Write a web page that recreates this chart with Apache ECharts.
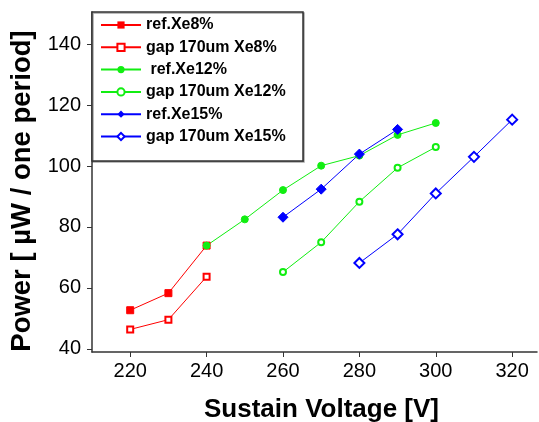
<!DOCTYPE html>
<html>
<head>
<meta charset="utf-8">
<script src="https://cdn.jsdelivr.net/npm/echarts@6/dist/echarts.min.js"></script>
<style>
  html, body { margin: 0; padding: 0; background: #fff; }
  #myChart { width: 539px; height: 422px; }
</style>
</head>
<body>
<div id="myChart"></div>
<script>
// tick labels
const xTicks = [220, 240, 260, 280, 300, 320]
const yTicks = [40, 60, 80, 100, 120, 140]

// series: [voltage, power]
const refXe8 = [[220, 52.7], [230, 58.3], [240, 73.9]]
const gapXe8 = [[220, 46.4], [230, 49.6], [240, 63.7]]
const refXe12 = [[240, 73.9], [250, 82.5], [260, 92.1], [270, 100.1], [280, 103.4], [290, 110.2], [300, 114.1]]
const gapXe12 = [[260, 65.2], [270, 75], [280, 88.3], [290, 99.4], [300, 106.2]]
const refXe15 = [[260, 83.2], [270, 92.4], [280, 103.9], [290, 112]]
const gapXe15 = [[280, 68.2], [290, 77.6], [300, 91], [310, 103], [320, 115.2]]

const names = ['ref.Xe8%', 'gap 170um Xe8%', ' ref.Xe12%', 'gap 170um Xe12%', 'ref.Xe15%', 'gap 170um Xe15%']

function makeSeries(name, data, color, symbol, size) {
  return {
    name: name,
    type: 'line',
    data: data,
    symbol: symbol,
    symbolSize: size,
    color: color,
    itemStyle: { color: color, borderColor: color },
    lineStyle: { color: color, width: 1 },
    emphasis: { disabled: true },
    z: 2
  }
}

let myChart = echarts.init(document.getElementById('myChart'))
myChart.setOption({
  animation: false,
  backgroundColor: '#fff',
  textStyle: { fontFamily: 'Arial, "Liberation Sans", sans-serif' },
  grid: { left: 92, right: 2, top: 12, bottom: 70, outerBoundsMode: 'none', containLabel: false },
  graphic: [
    {
      type: 'rect',
      z: 3,
      shape: { x: 92, y: 12, width: 211, height: 149 },
      style: {
        fill: '#fff', stroke: '#333', lineWidth: 1.5,
        shadowColor: 'rgba(0,0,0,0.35)', shadowOffsetX: 1, shadowOffsetY: 1
      }
    }
  ],
  legend: {
    orient: 'vertical',
    left: 100,
    top: 17,
    z: 5,
    itemWidth: 40,
    itemHeight: 9,
    itemGap: 6.3,
    padding: 0,
    data: names,
    textStyle: {
      color: '#000', fontSize: 16, fontWeight: 'bold', lineHeight: 16,
      fontFamily: 'Arial, "Liberation Sans", sans-serif'
    }
  },
  xAxis: {
    type: 'value',
    min: 210,
    max: 326.5,
    name: 'Sustain Voltage [V]',
    nameLocation: 'middle',
    nameGap: 45,
    nameTextStyle: { color: '#000', fontSize: 26, fontWeight: 'bold', padding: [0, 0, 0, 14] },
    splitLine: { show: false },
    axisLine: { show: true, onZero: false, lineStyle: { color: '#333', width: 1.5 } },
    axisTick: { show: true, length: 5, customValues: xTicks, lineStyle: { color: '#333' } },
    axisLabel: { customValues: xTicks, color: '#000', fontSize: 20, margin: 9 }
  },
  yAxis: {
    type: 'value',
    min: 39,
    max: 150.5,
    name: 'Power [ µW / one period]',
    nameLocation: 'middle',
    nameGap: 56,
    nameTextStyle: { color: '#000', fontSize: 27.5, fontWeight: 'bold', padding: [0, 18, 0, 0] },
    splitLine: { show: false },
    axisLine: { show: true, onZero: false, lineStyle: { color: '#333', width: 1.5 } },
    axisTick: { show: true, length: 5, customValues: yTicks, lineStyle: { color: '#333' } },
    axisLabel: { customValues: yTicks, color: '#000', fontSize: 20, margin: 11 }
  },
  series: [
    makeSeries(names[0], refXe8, '#ff0000', 'rect', 7),
    makeSeries(names[1], gapXe8, '#ff0000', 'emptyRect', 6),
    makeSeries(names[2], refXe12, '#11ee11', 'circle', 7),
    makeSeries(names[3], gapXe12, '#11ee11', 'emptyCircle', 6),
    makeSeries(names[4], refXe15, '#0000ff', 'diamond', 10),
    makeSeries(names[5], gapXe15, '#0000ff', 'emptyDiamond', 10)
  ]
})
</script>
</body>
</html>
